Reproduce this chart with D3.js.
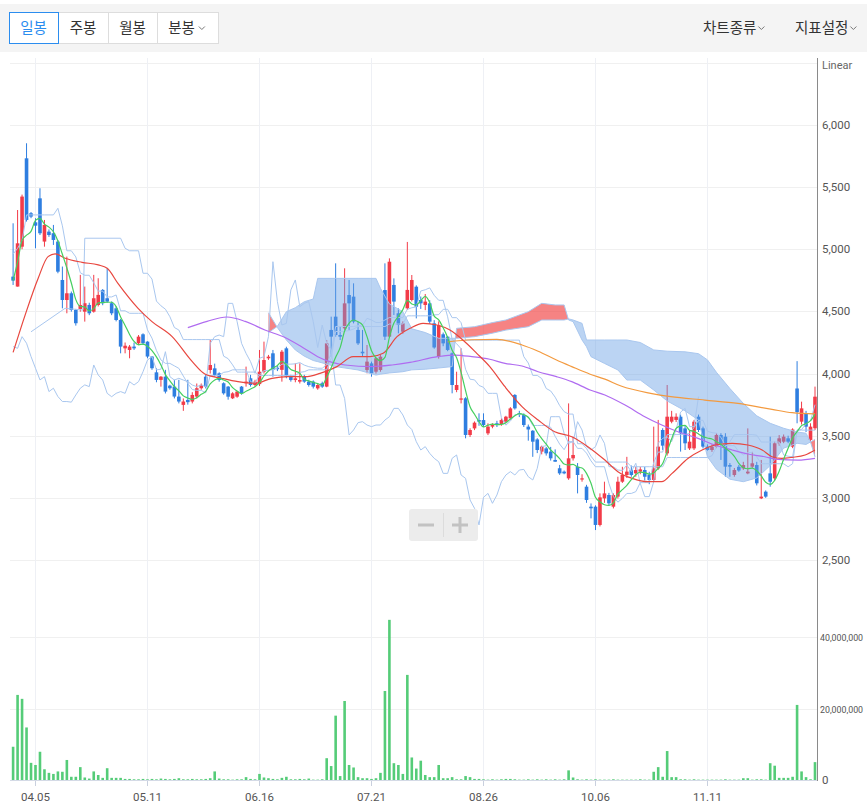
<!DOCTYPE html>
<html><head><meta charset="utf-8">
<script src="https://cdn.jsdelivr.net/npm/d3@7"></script>
<style>body{margin:0;background:#fff;overflow:hidden}text{font-family:Roboto,'Noto Sans',sans-serif}</style>
</head><body><svg id="c" width="867" height="811"></svg>
<script>
// ---- data (daily candles, index 0 = first visible day) ----
const openP=[4780,4700,5021,5732,5290,5217,5410,5062,5142,5129,5062,4753,4592,4646,4512,4520,4498,4552,4498,4552,4673,4606,4566,4525,4431,4203,4190,4217,4244,4316,4257,4137,4010,3949,3975,3903,3895,3815,3748,3788,3775,3815,3882,3975,4029,4042,4002,3922,3895,3801,3814,3895,3922,3962,3908,3915,4015,4123,4163,4047,4030,4203,3975,3948,3935,3975,3935,3935,3881,3922,3895,4351,4458,4310,4364,4632,4619,4351,4176,4029,4082,4015,4029,4672,4297,4713,4485,4337,4525,4592,4699,4592,4552,4565,4404,4136,4316,4297,4163,3868,3790,3801,3506,3559,3626,3626,3519,3573,3600,3594,3613,3640,3828,3680,3666,3573,3540,3470,3372,3398,3372,3305,3238,3211,3157,3318,3251,3150,3090,2929,2929,2782,2996,3023,2929,3010,3130,3184,3224,3197,3211,3224,3184,3144,3237,3546,3358,3613,3627,3653,3559,3398,3398,3653,3559,3412,3385,3412,3506,3492,3264,3184,3250,3237,3197,3251,3264,2996,3050,3197,3157,3439,3452,3479,3412,3880,3613,3680,3466,3560];
const highP=[5209,5316,5440,5853,5300,5250,5491,5236,5160,5196,5075,4861,4941,4660,4520,4794,4700,4570,4794,4767,4680,4847,4580,4540,4440,4250,4230,4250,4310,4324,4260,4140,4043,3980,4030,3910,3950,3950,3800,3950,3850,3920,3920,3990,4270,4080,4010,3930,3900,3850,3860,3900,4056,3990,3950,4190,4257,4150,4190,4060,4190,4216,3990,4082,4082,3990,3950,3945,3915,3935,4270,4458,4887,4377,4847,4753,4726,4418,4351,4230,4096,4130,4150,4887,4927,4766,4525,4420,5059,4793,4710,4620,4640,4590,4430,4420,4330,4300,4170,4015,4203,3810,3560,3615,3680,3680,3600,3600,3620,3640,3660,3730,3835,3700,3680,3590,3545,3480,3420,3410,3410,3390,3265,3220,3760,3492,3280,3190,3105,2955,2940,3036,3130,3040,3036,3170,3250,3330,3260,3250,3250,3250,3210,3573,3627,3560,3908,3700,3680,3670,3585,3546,3627,3670,3573,3430,3430,3520,3520,3520,3280,3240,3265,3290,3559,3370,3290,3305,3060,3492,3452,3505,3510,3500,3560,4100,3774,3700,3600,3895];
const lowP=[4713,4700,5000,5223,5250,5008,5115,5021,5100,5035,4807,4525,4485,4498,4386,4498,4418,4470,4490,4540,4550,4570,4470,4420,4163,4163,4123,4190,4230,4230,4123,4030,3930,3895,3840,3870,3800,3760,3700,3750,3760,3800,3870,3880,4000,3975,3935,3830,3790,3795,3805,3830,3895,3895,3895,3900,4000,4110,3975,4020,3935,3962,3935,3930,3920,3925,3895,3880,3870,3885,3890,4136,4297,4270,4351,4351,4404,4230,4136,4002,3975,4000,4015,4270,4290,4471,4324,4320,4512,4580,4444,4520,4510,4400,4200,4120,4220,4180,3841,3850,3760,3479,3490,3545,3580,3570,3505,3560,3570,3580,3600,3630,3710,3650,3570,3460,3330,3360,3350,3340,3300,3290,3185,3190,3145,3300,3036,3130,2960,2835,2741,2770,2960,2940,2915,2995,3120,3160,3170,3170,3190,3140,3110,3130,3225,3385,3340,3600,3610,3372,3385,3385,3385,3530,3398,3380,3370,3400,3305,3170,3170,3170,3210,3225,3190,3240,3100,2990,3000,3090,3140,3420,3440,3440,3400,3600,3590,3530,3450,3545];
const closeP=[4748,5048,5424,5236,5263,5190,5129,5196,5115,5075,4820,4592,4646,4512,4405,4552,4566,4485,4606,4633,4566,4579,4485,4431,4217,4224,4217,4203,4297,4244,4137,4043,3949,3975,3855,3882,3815,3775,3775,3770,3828,3882,3909,3895,4069,3989,3948,3841,3814,3841,3855,3841,3935,3908,3935,4015,4109,4136,4030,4035,4176,3975,3948,3962,3948,3935,3908,3895,3908,3895,4243,4297,4310,4297,4565,4565,4418,4243,4163,4096,4002,4123,4136,4297,4900,4579,4391,4404,4673,4753,4538,4565,4579,4418,4210,4390,4243,4190,3908,3908,3800,3506,3546,3605,3613,3586,3573,3586,3586,3626,3653,3720,3720,3667,3586,3550,3452,3385,3412,3358,3318,3291,3197,3197,3318,3345,3184,3157,2983,2916,2782,3004,3036,2956,3023,3130,3184,3211,3184,3224,3229,3170,3144,3237,3412,3420,3653,3653,3653,3519,3439,3452,3613,3546,3412,3385,3412,3506,3439,3251,3251,3224,3220,3264,3211,3278,3117,3010,3010,3130,3439,3479,3492,3452,3550,3690,3720,3573,3573,3814];
const volumeM=[9.3,23.8,22.7,14.7,4.8,4.2,7.9,3.0,2.0,1.7,2.4,2.3,5.6,0.9,0.9,3.6,0.7,0.4,2.4,1.4,0.6,3.3,0.6,0.6,0.6,0.3,0.3,0.2,0.2,0.3,0.2,0.3,0.2,0.4,0.3,0.2,0.3,0.5,0.2,0.2,0.3,0.2,0.2,0.3,0.5,2.4,0.4,0.2,0.2,0.1,0.2,0.2,0.8,0.3,0.2,1.7,0.7,0.5,0.3,0.2,0.6,0.9,0.2,0.2,0.3,0.2,0.4,0.1,0.1,0.2,6.1,3.9,18.0,1.1,22.1,4.2,3.5,0.8,0.5,0.5,0.3,0.5,2.0,24.9,44.8,4.7,4.2,1.7,29.4,6.3,3.2,5.4,1.4,0.8,0.8,4.2,0.5,0.5,0.8,0.2,0.2,1.1,0.8,0.3,0.3,0.2,0.1,0.2,0.1,0.2,0.3,0.3,0.2,0.1,0.1,0.2,0.1,0.2,0.1,0.2,0.1,0.2,0.1,0.2,2.7,0.7,0.2,0.1,0.2,0.1,0.2,0.1,0.1,0.1,0.2,0.1,0.1,0.1,0.1,0.1,0.2,0.1,0.1,2.3,3.6,0.9,8.1,0.8,0.8,0.2,0.2,0.1,0.2,0.1,0.1,0.1,0.1,0.1,0.1,0.2,0.1,0.1,0.1,0.5,0.5,0.1,0.2,0.2,0.1,4.7,4.0,0.6,0.6,0.6,0.9,21.0,2.4,0.8,0.2,5.0];
const tickIdx=[5,30,55,80,105,130,155];
const tickLabels=['04.05','05.11','06.16','07.21','08.26','10.06','11.11'];
const priceTicks=[2500,3000,3500,4000,4500,5000,5500,6000];
const volTicks=[0,20e6,40e6];
// moving averages (day index, price)
const ma20=[[0,4170],[2.7,4472],[5.6,4767],[7.8,4941],[9.4,4963],[11.6,4928],[15.4,4895],[19,4874],[21,4847],[23.4,4726],[27.9,4525],[31,4418],[35.5,4297],[40,4096],[42.8,3997],[46.6,3962],[50.2,3935],[54,3922],[57.8,3962],[61.4,3975],[65.2,3975],[68.5,4002],[72.3,4056],[75.9,4136],[79.7,4136],[82.6,4163],[85.7,4297],[88.6,4364],[91.5,4404],[94.6,4391],[97.5,4350],[100.4,4270],[103.5,4163],[106.4,4056],[109.8,3894],[113.6,3734],[117.2,3626],[120.9,3532],[124.7,3492],[128.3,3412],[132.1,3304],[135,3211],[138.2,3157],[141.7,3130],[144.8,3130],[147.1,3197],[150.7,3318],[153.8,3385],[156.7,3425],[160.5,3439],[164,3425],[167.2,3385],[169.4,3331],[171.6,3318],[173.9,3326],[176.8,3345],[179,3385]];
const ma60=[[39,4370],[43.3,4420],[47.7,4455],[51.8,4420],[56.2,4351],[60.7,4290],[65.1,4200],[68,4136],[71.2,4090],[74.1,4069],[80.1,4056],[84.6,4069],[88.6,4090],[94.8,4136],[98.6,4149],[102.4,4136],[106.4,4115],[109.8,4082],[113.6,4061],[117.2,4015],[121.3,3975],[124.7,3935],[128.8,3868],[132.1,3828],[136.6,3747],[141,3653],[144.8,3586],[148.4,3532],[152.9,3479],[156.7,3425],[160.5,3385],[164,3353],[167.8,3331],[170.7,3310],[175.2,3304],[179,3318]];
const ma120=[[97,4255],[102.4,4272],[108,4275],[113.6,4230],[117.2,4180],[121.3,4109],[124.7,4056],[128.8,3995],[132.1,3955],[135.7,3900],[142.3,3841],[146.8,3814],[154.4,3787],[161.8,3760],[169.4,3712],[173.9,3685],[179,3675]];
// Ichimoku leading spans
const spanIdx=[57,59,61,63,65,67,68,72,77,81,82,84,87,89,92,95,98,99,103,107,110,115,118,121,123,124,125,127,128,129,132,135,137,140,143,146,150,153,155,157,160,163,166,169,172,175,177,178,179];
const spanA=[4490,4370,4270,4190,4140,4105,4096,4056,4029,3988,3995,4005,4015,4030,4035,4045,4056,4364,4377,4410,4431,4498,4565,4552,4552,4431,4418,4270,4216,4136,4082,4029,3948,3948,3868,3780,3700,3626,3330,3230,3150,3130,3160,3260,3400,3439,3430,3450,3470];
const spanB=[4330,4380,4498,4530,4578,4600,4766,4766,4766,4766,4686,4560,4498,4360,4330,4284,4284,4284,4297,4325,4350,4377,4431,4431,4431,4440,4431,4404,4270,4270,4270,4270,4270,4250,4190,4180,4175,4160,4110,4010,3880,3760,3660,3600,3560,3530,3520,3450,3330];
const kijunEarly=[[4,4336],[11.6,4525],[15.6,4511],[16,5089],[24,5089]];

// ---- layout ----
const svg=d3.select('#c');
const L=10,R=817;
const x=d3.scaleLinear().domain([0,179]).range([13.1,815]);
const y=d3.scaleLinear().domain([2500,6000]).range([560,125]);
const yv=d3.scaleLinear().domain([0,40e6]).range([780,637]);
const N=closeP.length;
const KR="'Noto Sans CJK KR'";

// toolbar
svg.append('rect').attr('x',0).attr('y',4).attr('width',867).attr('height',48).attr('fill','#f4f4f4');
const btns=[['일봉',9,58],['주봉',58,108],['월봉',108,157],['분봉',157,218]];
btns.forEach(b=>{
  svg.append('rect').attr('x',b[1]+0.5).attr('y',12.5).attr('width',b[2]-b[1]).attr('height',31).attr('fill','#fff').attr('stroke','#dddddd');
});
svg.append('rect').attr('x',9.5).attr('y',12.5).attr('width',49).attr('height',31).attr('fill','#fff').attr('stroke','#2b8def');
function chevron(cx,cy){svg.append('path').attr('d',`M${cx-3},${cy-1.5}L${cx},${cy+1.5}L${cx+3},${cy-1.5}`).attr('fill','none').attr('stroke','#777').attr('stroke-width',1);}
btns.forEach((b,k)=>{
  const cx=k===3?(b[1]+b[2])/2-6:(b[1]+b[2])/2;
  const t=svg.append('text').attr('x',cx).attr('y',33).attr('text-anchor','middle').style('font-family',KR)
   .style('font-size','14.5px').attr('fill',k===0?'#2b8def':'#333').text(b[0]);
  if(k===3){chevron(cx+t.node().getComputedTextLength()/2+7,28);}
});
[['차트종류',703],['지표설정',795]].forEach(m=>{
  const t=svg.append('text').attr('x',m[1]).attr('y',33).style('font-family',KR).style('font-size','14.5px').attr('fill','#333').text(m[0]);
  chevron(m[1]+t.node().getComputedTextLength()+5,28);
});

// clip paths
const defs=svg.append('defs');
defs.append('clipPath').attr('id','cp').append('rect').attr('x',L).attr('y',58).attr('width',R-L).attr('height',500);
defs.append('clipPath').attr('id','cv').append('rect').attr('x',L).attr('y',560).attr('width',R-L).attr('height',221);

// grid
const grid=svg.append('g');
[...priceTicks,6500].forEach(p=>grid.append('line').attr('x1',L).attr('x2',R).attr('y1',Math.round(y(p))+0.5).attr('y2',Math.round(y(p))+0.5).attr('stroke','#f0f0f0'));
volTicks.slice(1).forEach(v=>grid.append('line').attr('x1',L).attr('x2',R).attr('y1',Math.round(yv(v))+0.5).attr('y2',Math.round(yv(v))+0.5).attr('stroke','#f0f0f0'));
tickIdx.forEach(t=>grid.append('line').attr('x1',Math.round(x(t))+0.5).attr('x2',Math.round(x(t))+0.5).attr('y1',58).attr('y2',780).attr('stroke','#eef0f5'));

// candles
const pg=svg.append('g').attr('clip-path','url(#cp)');
const UP='#f23b48',DN='#2e7ee0';
const cg=pg.append('g');
d3.range(N).forEach(i=>{
  const up=closeP[i]>=openP[i], col=up?UP:DN, cx=x(i);
  cg.append('line').attr('x1',cx).attr('x2',cx).attr('y1',y(highP[i])).attr('y2',y(lowP[i])).attr('stroke',col).attr('stroke-width',1);
  const t=y(Math.max(openP[i],closeP[i])), b=y(Math.min(openP[i],closeP[i]));
  cg.append('rect').attr('x',cx-1.8).attr('width',3.6).attr('y',t).attr('height',Math.max(1.2,b-t)).attr('fill',col);
});

// cloud
function cloudPolys(){
  const polys=[];let cur=null,sign=null;
  for(let k=0;k<spanIdx.length;k++){
    const i=spanIdx[k],a=spanA[k],b=spanB[k],s=a>=b?1:-1;
    if(cur&&s!==sign){
      const i0=spanIdx[k-1],a0=spanA[k-1],b0=spanB[k-1];
      const d0=a0-b0,d1=a-b,t=d0/(d0-d1);
      const ci=i0+t*(i-i0),cv=a0+t*(a-a0);
      cur.pts.push([ci,cv,cv]);polys.push(cur);
      cur={sign:s,pts:[[ci,cv,cv]]};
    }
    if(!cur)cur={sign:s,pts:[]};
    sign=s;cur.pts.push([i,a,b]);
  }
  polys.push(cur);return polys;
}
const area=d3.area().x(d=>x(d[0])).y0(d=>y(d[1])).y1(d=>y(d[2]));
cloudPolys().forEach(p=>{
  pg.append('path').attr('d',area(p.pts)).attr('fill',p.sign>0?'rgba(242,72,72,0.68)':'rgba(104,160,228,0.45)');
});

// ichimoku lines
const ichCol='#a9c7ef';
const line=d3.line().x(d=>x(d[0])).y(d=>y(d[1]));
const tenkan=d3.range(N).map(i=>{const s=Math.max(0,i-8);return [i,(d3.max(highP.slice(s,i+1))+d3.min(lowP.slice(s,i+1)))/2];});
const kijun=kijunEarly.concat(d3.range(25,N).map(i=>[i,(d3.max(highP.slice(i-25,i+1))+d3.min(lowP.slice(i-25,i+1)))/2]));
const chikou=d3.range(0,N-26).map(i=>[i,closeP[i+26]]);
[tenkan,kijun,chikou,spanIdx.map((d,k)=>[d,spanA[k]]),spanIdx.map((d,k)=>[d,spanB[k]])].forEach(s=>{
  pg.append('path').attr('d',line(s)).attr('fill','none').attr('stroke',ichCol).attr('stroke-width',1);
});

// moving averages
const smooth=d3.line().x(d=>x(d[0])).y(d=>y(d[1])).curve(d3.curveMonotoneX);
const ma5=d3.range(N).map(i=>{const s=Math.max(0,i-4);return [i,d3.mean(closeP.slice(s,i+1))];});
[[ma120,'#f39a3f'],[ma60,'#b06cf0'],[ma20,'#e8473f'],[ma5,'#45cf5f']].forEach(m=>{
  pg.append('path').attr('d',smooth(m[0])).attr('fill','none').attr('stroke',m[1]).attr('stroke-width',1.2);
});

// volume
const vg=svg.append('g').attr('clip-path','url(#cv)');
d3.range(N).forEach(i=>{
  const v=volumeM[i]*1e6;
  vg.append('rect').attr('x',x(i)-1.3).attr('width',2.6).attr('y',yv(v)).attr('height',Math.max(0.8,780-yv(v))).attr('fill','#55cc78');
});

// right axis
svg.append('line').attr('x1',R+0.5).attr('x2',R+0.5).attr('y1',58).attr('y2',781).attr('stroke','#8a8a8a');
svg.append('text').attr('x',822).attr('y',69).style('font-size','11px').attr('fill','#666').text('Linear');
priceTicks.forEach(p=>svg.append('text').attr('x',822).attr('y',y(p)+4).style('font-size','11.5px').attr('fill','#555').text(d3.format(',')(p)));
volTicks.forEach(v=>{
  svg.append('text').attr('x',v===0?822:820).attr('y',yv(v)+4).style('font-size',v===0?'11.5px':'8.8px').attr('fill','#555').text(d3.format(',')(v));
});

// bottom axis
svg.append('line').attr('x1',L).attr('x2',R).attr('y1',780.5).attr('y2',780.5).attr('stroke','#d4dae6');
tickIdx.forEach((t,k)=>{
  svg.append('line').attr('x1',Math.round(x(t))+0.5).attr('x2',Math.round(x(t))+0.5).attr('y1',781).attr('y2',786).attr('stroke','#c9d0de');
  svg.append('text').attr('x',x(t)).attr('y',801).attr('text-anchor','middle').style('font-size','11.5px').attr('fill','#555').text(tickLabels[k]);
});

// zoom control
svg.append('rect').attr('x',409).attr('y',509).attr('width',69).attr('height',32).attr('rx',3).attr('fill','#ececec');
svg.append('line').attr('x1',443.5).attr('x2',443.5).attr('y1',513).attr('y2',537).attr('stroke','#dcdcdc');
svg.append('line').attr('x1',418).attr('x2',434).attr('y1',525).attr('y2',525).attr('stroke','#c2c2c2').attr('stroke-width',3);
svg.append('line').attr('x1',452).attr('x2',468).attr('y1',525).attr('y2',525).attr('stroke','#c2c2c2').attr('stroke-width',3);
svg.append('line').attr('x1',460).attr('x2',460).attr('y1',517).attr('y2',533).attr('stroke','#c2c2c2').attr('stroke-width',3);
</script></body></html>
